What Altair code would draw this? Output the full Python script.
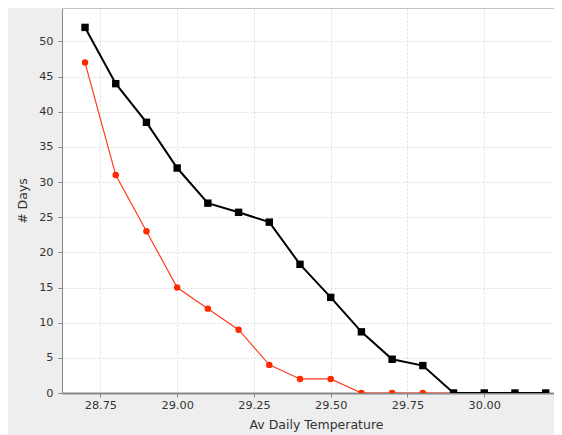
import altair as alt
import pandas as pd

temps = [28.7, 28.8, 28.9, 29.0, 29.1, 29.2, 29.3, 29.4, 29.5, 29.6, 29.7, 29.8, 29.9, 30.0, 30.1, 30.2]
black_days = [52, 44, 38.5, 32, 27, 25.7, 24.3, 18.3, 13.6, 8.7, 4.8, 3.9, 0, 0, 0, 0]
red_days = [47, 31, 23, 15, 12, 9, 4, 2, 2, 0, 0, 0, 0, 0, 0, 0]

x_ticks = [28.75, 29.0, 29.25, 29.5, 29.75, 30.0, 30.25]
y_ticks = [0, 5, 10, 15, 20, 25, 30, 35, 40, 45, 50]

df_black = pd.DataFrame({"temp": temps, "days": black_days})
df_red = pd.DataFrame({"temp": temps, "days": red_days})

FONT = "DejaVu Sans"
W, H = 492, 385

x_enc = alt.X(
    "temp:Q",
    scale=alt.Scale(domain=[28.625, 30.2271], nice=False, zero=False),
    axis=alt.Axis(
        title="Av Daily Temperature",
        titleX=254,
        values=x_ticks,
        format=".2f",
        labelFlush=False,
        labelOverlap=False,
        labelBound=False,
        tickSize=4,
        labelPadding=2,
        titlePadding=8,
    ),
)
y_enc = alt.Y(
    "days:Q",
    scale=alt.Scale(domain=[0, 54.76], nice=False),
    axis=alt.Axis(
        title="# Days",
        values=y_ticks,
        tickSize=4,
        labelPadding=5,
        titlePadding=9,
    ),
)

red_line = alt.Chart(df_red).mark_line(color="#ff3b1f", strokeWidth=1.2, clip=True).encode(x=x_enc, y=y_enc)
red_pts = alt.Chart(df_red).mark_point(shape="circle", filled=True, opacity=1, size=42, color="#ff2a00", clip=True).encode(x=x_enc, y=y_enc)
black_line = alt.Chart(df_black).mark_line(color="#000000", strokeWidth=2, clip=True).encode(x=x_enc, y=y_enc)
black_pts = alt.Chart(df_black).mark_point(shape="square", filled=True, opacity=1, size=55, color="#000000", clip=True).encode(x=x_enc, y=y_enc)
top_border = alt.Chart(df_black).mark_rule(color="#c4c4c4", strokeWidth=1).encode(
    x=alt.value(0), x2=alt.value(W), y=alt.value(0.5)
)

chart = (
    alt.layer(top_border, red_line, red_pts, black_line, black_pts)
    .properties(
        width=W,
        height=H,
        autosize=alt.AutoSizeParams(type="none"),
        padding={"left": 54, "top": 0, "right": 0, "bottom": 44},
        background="#eeeeee",
    )
    .configure_view(fill="white", stroke="transparent")
    .configure_axis(
        labelFont=FONT,
        titleFont=FONT,
        labelFontSize=11.3,
        titleFontSize=12.5,
        titleFontWeight="normal",
        labelColor="#333333",
        titleColor="#333333",
        domainColor="#888888",
        domainWidth=1,
        tickColor="#888888",
        gridColor="#dcdcdc",
        gridDash=[2, 2],
        gridWidth=1,
    )
    .configure_axisX(domainWidth=2)
)

chart.save("out.html", embed_options={"renderer": "svg", "actions": False})
